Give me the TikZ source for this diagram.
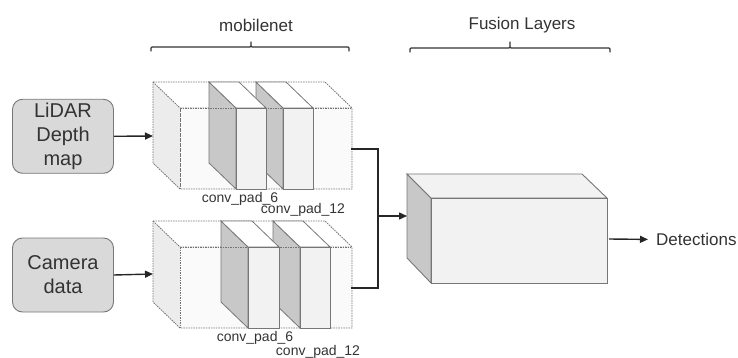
\documentclass[tikz,border=0pt]{standalone}
\usepackage{fontspec}
\setmainfont{Liberation Sans}
\usetikzlibrary{arrows.meta}
\definecolor{txt}{HTML}{333333}
\definecolor{edge}{HTML}{777777}
\definecolor{sidegray}{HTML}{C8C8C8}
\definecolor{boxgray}{HTML}{D9D9D9}
\definecolor{lightface}{HTML}{F2F2F2}
\definecolor{paleface}{HTML}{FAFAFA}
\definecolor{leftface}{HTML}{ECECEC}
\tikzset{
  inputbox/.style={draw=edge, line width=0.9pt, fill=boxgray, rounded corners=10pt, minimum width=101pt, minimum height=74pt, align=center, text=txt, font=\fontsize{20}{24}\selectfont, inner sep=0pt},
  dashedge/.style={draw=black!55, line width=0.8pt, dash pattern=on 1.6pt off 0.9pt},
  slabedge/.style={draw=edge, line width=0.8pt},
  conn/.style={draw=black!85, line width=1.4pt},
  arr/.style={conn, -{Triangle[length=8pt,width=7pt]}},
  lbl/.style={text=txt, font=\fontsize{14}{14}\selectfont, inner sep=0pt},
  ttl/.style={text=txt, font=\fontsize{17}{17}\selectfont, inner sep=0pt},
  brace/.style={draw=black!80, line width=1.2pt, line cap=round, line join=round}
}
\newcommand{\outerblock}[4]{% x0 y0 x1 y1 (back face), offset 27,26
  \fill[leftface] (#1,#2) -- (#1+27,#2+26) -- (#1+27,#4+26) -- (#1,#4) -- cycle;
  \fill[white] (#1,#2) -- (#3,#2) -- (#3+27,#2+26) -- (#1+27,#2+26) -- cycle;
  \fill[paleface] (#1+27,#2+26) rectangle (#3+27,#4+26);
  \draw[dashedge] (#1,#2) -- (#3,#2) -- (#3+27,#2+26) -- (#3+27,#4+26) -- (#1+27,#4+26) -- (#1,#4) -- cycle;
  \draw[dashedge] (#1,#2) -- (#1+27,#2+26) -- (#3+27,#2+26);
  \draw[dashedge] (#1+27,#2+26) -- (#1+27,#4+26);
}
\newcommand{\slab}[4]{% bx y0 y1 w
  \filldraw[fill=sidegray, slabedge] (#1,#2) -- (#1+27,#2+26) -- (#1+27,#3+26) -- (#1,#3) -- cycle;
  \filldraw[fill=white, slabedge] (#1,#2) -- (#1+#4,#2) -- (#1+#4+27,#2+26) -- (#1+27,#2+26) -- cycle;
  \filldraw[fill=lightface, slabedge] (#1+27,#2+26) rectangle (#1+27+#4,#3+26);
}
\begin{document}
\begin{tikzpicture}[x=1pt,y=-1pt]
\useasboundingbox (0,0) rectangle (738,358);

% input boxes
\node[inputbox] (lidar) at (63,136.3) {LiDAR\\Depth\\map};
\node[inputbox] (camera) at (63,275) {Camera\\data};

% top block
\outerblock{153}{82}{325}{163}
\slab{256}{82}{163}{30}
\slab{209}{82}{163}{30}
\draw[dashedge] (180,108) -- (351,108);
\coordinate (topin) at (153,136);
\coordinate (topout) at (351,149);

% bottom block
\outerblock{153}{221}{325}{302}
\slab{273}{221}{302}{30}
\slab{221}{221}{302}{31}
\draw[dashedge] (180,247) -- (351,247);
\coordinate (botin) at (153,274);
\coordinate (botout) at (351,288);

% labels
\node[lbl] (c6a) at (240,199) {conv\_pad\_6};
\node[lbl] (c12a) at (303,209.5) {conv\_pad\_12};
\node[lbl] (c6b) at (255,338) {conv\_pad\_6};
\node[lbl] (c12b) at (318,352) {conv\_pad\_12};

% fusion block
\filldraw[fill=sidegray, draw=edge, line width=0.9pt] (407,174) -- (431,198) -- (431,283) -- (407,258) -- cycle;
\filldraw[fill=lightface, draw=edge, line width=0.9pt] (407,174) -- (582,174) -- (607,198) -- (431,198) -- cycle;
\filldraw[fill=lightface, draw=edge, line width=0.9pt] (431,198) rectangle (607,283);
\coordinate (fusin) at (407,216);
\coordinate (fusout) at (609,239);
\coordinate (mergeTop) at (378,149);
\coordinate (mergeBot) at (378,288);
\coordinate (mergeMid) at (378,216);

% connectors
\draw[arr] (lidar.east) -- (topin);
\draw[arr] (camera.east) -- (botin);
\draw[conn] (topout) -- (mergeTop) -- (mergeBot) -- (botout);
\draw[arr] (mergeMid) -- (fusin);
\node[ttl, anchor=west] (det) at (656,239.5) {Detections};
\draw[arr, shorten >=8pt] (fusout) -- (det.west);

% braces
\draw[brace] (151,51) -- (151,48) -- (152,47) -- (250,47) -- (251,46) -- (251,42) -- (251,46) -- (252,47) -- (348,47) -- (349,48) -- (349,51);
\node[ttl] (mob) at (256,25) {mobilenet};
\draw[brace] (410,52) -- (410,49) -- (411,48) -- (509,48) -- (510,47) -- (510,42) -- (510,47) -- (511,48) -- (609,48) -- (610,49) -- (610,52);
\node[ttl] (fus) at (522,25) {Fusion Layers};
\end{tikzpicture}
\end{document}
